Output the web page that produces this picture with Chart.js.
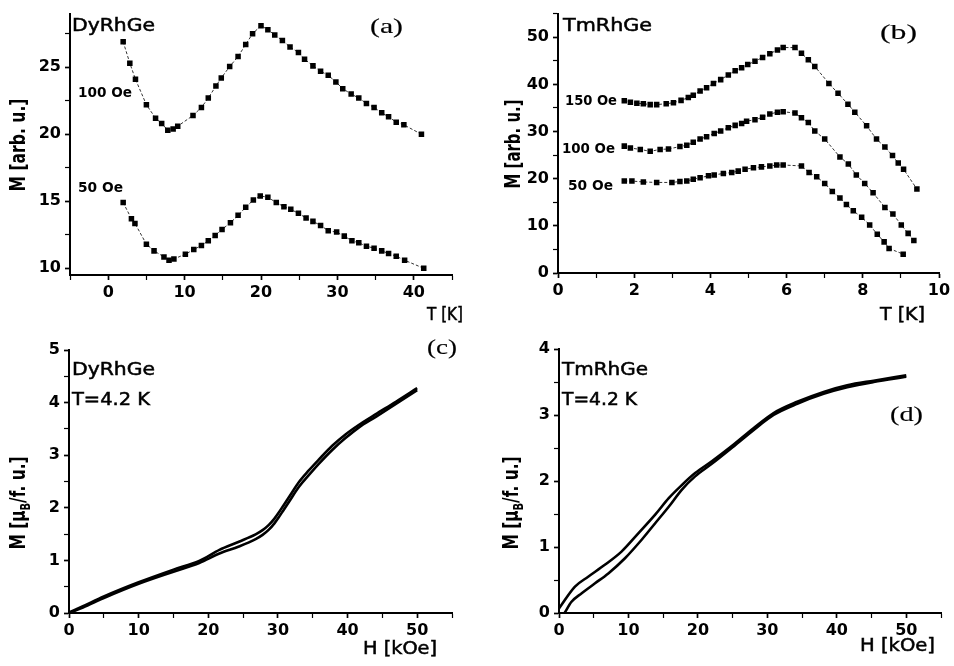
<!DOCTYPE html>
<html>
<head>
<meta charset="utf-8">
<script src="https://cdn.jsdelivr.net/npm/chart.js@4.4.1/dist/chart.umd.min.js"></script>
<style>
  html, body { margin: 0; padding: 0; background: #fff; }
  #wrap { position: relative; width: 954px; height: 666px; overflow: hidden; }
  #wrap canvas { position: absolute; }
</style>
</head>
<body>
<div id="wrap">
  <canvas id="ca" width="477" height="330" style="left:0;top:0"></canvas>
  <canvas id="cb" width="477" height="330" style="left:477px;top:0"></canvas>
  <canvas id="cc" width="477" height="336" style="left:0;top:330px"></canvas>
  <canvas id="cd" width="477" height="336" style="left:477px;top:330px"></canvas>
</div>
<script>
// (a) DyRhGe, M(T)
var dyT100 = [1.96, 2.83, 3.57, 5.0, 6.2, 7.0, 7.8, 8.5, 9.1, 11.1, 12.2, 13.1, 14.1, 14.8, 15.9, 17.0, 18.0, 18.9, 20.0, 20.9,
              21.8, 22.8, 23.8, 24.9, 25.7, 26.8, 27.8, 28.8, 29.8, 30.7, 31.8, 32.8, 33.8, 34.8, 35.8, 36.7, 37.7, 38.7, 41.0];
var dyM100 = [26.9, 25.3, 24.1, 22.2, 21.2, 20.8, 20.3, 20.4, 20.6, 21.4, 22.0, 22.7, 23.6, 24.2, 25.05, 25.8, 26.7, 27.5, 28.1, 27.8,
              27.4, 27.0, 26.5, 26.1, 25.6, 25.1, 24.7, 24.4, 23.9, 23.4, 23.0, 22.7, 22.3, 22.0, 21.6, 21.3, 20.9, 20.7, 20.0];
var dyT50 = [1.96, 3.04, 3.5, 5.0, 6.0, 7.3, 7.96, 8.6, 10.1, 11.2, 12.2, 13.1, 14.0, 14.9, 16.0, 17.0, 18.0, 19.0, 19.9, 20.9,
             22.0, 23.0, 23.9, 24.9, 25.9, 26.8, 27.8, 28.8, 29.9, 30.9, 31.9, 32.8, 33.8, 34.8, 35.8, 36.7, 37.7, 38.8, 41.3];
var dyM50 = [14.9, 13.7, 13.35, 11.8, 11.3, 10.85, 10.6, 10.7, 11.05, 11.4, 11.7, 12.05, 12.45, 12.9, 13.4, 13.95, 14.55, 15.1, 15.4, 15.3,
             14.9, 14.6, 14.4, 14.1, 13.75, 13.5, 13.2, 12.8, 12.7, 12.4, 12.05, 11.9, 11.65, 11.5, 11.3, 11.1, 10.9, 10.6, 10.0];

// (b) TmRhGe, M(T)
var tmT150 = [1.74, 1.9, 2.07, 2.24, 2.42, 2.59, 2.84, 3.03, 3.23, 3.42, 3.55, 3.73, 3.9, 4.08, 4.27, 4.47, 4.65, 4.82, 4.98, 5.17,
              5.37, 5.56, 5.76, 5.91, 6.22, 6.39, 6.57, 6.74, 7.11, 7.35, 7.61, 7.79, 8.1, 8.36, 8.58, 8.78, 8.93, 9.07, 9.42];
var tmM150 = [36.5, 36.2, 36.0, 35.9, 35.7, 35.7, 35.9, 36.1, 36.6, 37.2, 37.7, 38.6, 39.3, 40.2, 41.0, 42.0, 42.9, 43.5, 44.2, 44.9,
              45.7, 46.5, 47.3, 47.8, 47.8, 46.6, 45.2, 43.8, 40.2, 38.1, 35.8, 34.1, 31.2, 28.4, 26.7, 24.9, 23.3, 22.0, 17.8];
var tmT100 = [1.74, 1.9, 2.16, 2.42, 2.68, 2.9, 3.2, 3.38, 3.55, 3.73, 3.9, 4.1, 4.27, 4.47, 4.65, 4.82, 4.95, 5.17, 5.37, 5.56,
              5.76, 5.91, 6.22, 6.39, 6.57, 6.74, 7.0, 7.4, 7.62, 7.83, 8.05, 8.27, 8.58, 8.79, 9.01, 9.19, 9.34];
var tmM100 = [26.9, 26.5, 26.2, 25.8, 26.2, 26.3, 26.8, 27.1, 27.7, 28.4, 28.9, 29.6, 30.1, 30.8, 31.3, 31.7, 32.2, 32.5, 33.0, 33.7,
              34.1, 34.2, 33.9, 32.9, 31.9, 30.1, 28.4, 24.6, 23.1, 20.8, 19.0, 17.0, 13.9, 12.5, 10.2, 8.4, 6.9];
var tmT50 = [1.74, 1.94, 2.24, 2.59, 2.99, 3.2, 3.38, 3.55, 3.73, 3.95, 4.1, 4.34, 4.56, 4.73, 4.91, 5.13, 5.34, 5.56, 5.74, 5.91,
             6.39, 6.59, 6.79, 7.0, 7.2, 7.4, 7.57, 7.75, 7.97, 8.18, 8.38, 8.56, 8.69, 9.06];
var tmM50 = [19.5, 19.5, 19.3, 19.2, 19.2, 19.4, 19.5, 19.9, 20.2, 20.6, 20.8, 21.1, 21.3, 21.6, 22.0, 22.3, 22.5, 22.7, 22.9, 22.9,
             22.7, 21.3, 20.4, 19.0, 17.3, 15.9, 14.5, 13.2, 11.8, 10.2, 8.2, 6.6, 5.2, 4.0];

// (c) DyRhGe, M(H) at 4.2 K, two branches
var dyH = [0, 2, 5, 10, 15, 18.7, 21.6, 24.4, 26.8, 27.8, 28.7, 29.5, 30.1, 30.8, 31.6, 33.0, 34.4, 35.9, 37.8, 39.7, 41.6, 44, 47, 50];
var dyMup = [0.01, 0.13, 0.315, 0.585, 0.825, 0.99, 1.20, 1.355, 1.495, 1.575, 1.675, 1.795, 1.905, 2.045, 2.205, 2.485, 2.705, 2.92,
             3.18, 3.395, 3.575, 3.775, 4.02, 4.275];
var dyMdn = [0, 0.105, 0.285, 0.555, 0.785, 0.95, 1.13, 1.265, 1.405, 1.485, 1.585, 1.705, 1.815, 1.955, 2.115, 2.395, 2.615, 2.84,
             3.10, 3.325, 3.525, 3.725, 3.98, 4.235];

// (d) TmRhGe, M(H) at 4.2 K, two branches
var tmHup = [0, 2.3, 4.2, 6.6, 9.0, 11.45, 13.85, 15.8, 17.7, 19.6, 22, 25.1, 28, 30.9, 34.3, 38.1, 41.5, 45.3, 50];
var tmMup = [0.07, 0.40, 0.55, 0.73, 0.93, 1.21, 1.49, 1.74, 1.94, 2.12, 2.30, 2.55, 2.80, 3.03, 3.20, 3.35, 3.45, 3.52, 3.60];
var tmHdn = [0.8, 1.8, 3.27, 5.19, 7.1, 9.5, 11.9, 13.85, 15.8, 17.7, 19.6, 22, 25.1, 28, 30.9, 34.3, 38.1, 41.5, 45.3, 50];
var tmMdn = [0, 0.17, 0.30, 0.45, 0.60, 0.83, 1.11, 1.36, 1.61, 1.87, 2.07, 2.26, 2.52, 2.77, 3.00, 3.17, 3.32, 3.42, 3.50, 3.58];

var SANS = '"DejaVu Sans", sans-serif';
var SERIF = '"Liberation Serif", "DejaVu Serif", serif';

function pts(xs, ys) {
    return xs.map(function (x, i) { return {x: x, y: ys[i]}; });
}

// free text (labels, axis titles); w = target width, text is stretched like the scan
var notesPlugin = {
    id: 'notes',
    afterDraw: function (chart, args, opts) {
        var ctx = chart.ctx;
        (opts.items || []).forEach(function (n) {
            var parts = n.parts || [{t: n.text}];
            ctx.save();
            ctx.fillStyle = '#000';
            ctx.strokeStyle = '#000';
            ctx.lineWidth = n.stroke || 0;
            ctx.textBaseline = 'alphabetic';
            ctx.textAlign = 'left';
            var total = 0;
            parts.forEach(function (p) {
                ctx.font = p.font || n.font;
                p.pw = ctx.measureText(p.t).width;
                total += p.pw;
            });
            ctx.translate(n.x, n.y);
            if (n.rot) ctx.rotate(n.rot);
            ctx.scale(n.w ? n.w / total : 1, n.sy || 1);
            var x0 = n.align === 'center' ? -total / 2 : 0;
            parts.forEach(function (p) {
                ctx.font = p.font || n.font;
                ctx.fillText(p.t, x0, p.dy || 0);
                if (n.stroke) ctx.strokeText(p.t, x0, p.dy || 0);
                x0 += p.pw;
            });
            ctx.restore();
        });
    }
};

function isMajor(v, major) {
    return Math.abs(v / major - Math.round(v / major)) < 1e-6;
}

function axis(min, max, step, major, size, horizontal) {
    return {
        type: 'linear',
        min: min,
        max: max,
        border: {display: true, color: '#000', width: 2},
        grid: {
            drawOnChartArea: false,
            drawTicks: true,
            tickLength: 5,
            color: '#000',
            tickColor: '#000',
            tickWidth: function (c) {
                return c.tick && isMajor(c.tick.value, major) ? 1.7 : 1.2;
            }
        },
        ticks: {
            stepSize: step,
            includeBounds: false,
            autoSkip: false,
            maxRotation: 0,
            color: '#000',
            padding: horizontal ? 3 : 4,
            font: {family: SANS, size: 16, weight: 'bold'},
            callback: function (v) {
                return isMajor(v, major) ? String(Math.round(v * 10) / 10) : '';
            }
        },
        afterBuildTicks: function (s) {
            s.ticks = s.ticks.filter(function (t) { return isMajor(t.value, step); });
        },
        afterFit: function (s) {
            if (horizontal) s.height = size; else s.width = size;
        }
    };
}

function pointSet(data) {
    return {
        data: data,
        showLine: true,
        borderColor: '#333',
        borderWidth: 1,
        borderDash: [3, 2],
        pointStyle: 'rect',
        pointRadius: 3.9,
        pointBackgroundColor: '#000',
        pointBorderWidth: 0,
        tension: 0
    };
}

function lineSet(data) {
    return {
        data: data,
        showLine: true,
        borderColor: '#000',
        borderWidth: 2.6,
        pointRadius: 0,
        cubicInterpolationMode: 'monotone'
    };
}

function makeChart(id, datasets, xAxis, yAxis, pad, notes) {
    return new Chart(document.getElementById(id), {
        type: 'scatter',
        data: {datasets: datasets},
        options: {
            responsive: false,
            animation: false,
            layout: {padding: pad},
            scales: {x: xAxis, y: yAxis},
            plugins: {
                legend: {display: false},
                tooltip: {enabled: false},
                notes: {items: notes}
            }
        },
        plugins: [notesPlugin]
    });
}

var ROT = -Math.PI / 2;
var TXT = '17px ' + SANS;
var OE = 'bold 14px ' + SANS;
var TAG = '22px ' + SERIF;

makeChart('ca',
    [pointSet(pts(dyT100, dyM100)), pointSet(pts(dyT50, dyM50))],
    axis(-5, 45, 5, 10, 55, true),
    axis(9.5, 29, 2.5, 5, 70, false),
    {left: 0, top: 8, right: 25, bottom: 0},
    [
        {text: 'M [arb. u.]', x: 25, y: 145, rot: ROT, align: 'center', font: 'bold 17px ' + SANS, w: 93, sy: 1.25},
        {text: 'DyRhGe', x: 72, y: 31, font: TXT, w: 83, stroke: 0.5},
        {text: '(a)', x: 370, y: 33, font: TAG, w: 33, stroke: 0.15},
        {text: '100 Oe', x: 78, y: 97, font: OE, w: 54},
        {text: '50 Oe', x: 78, y: 192, font: OE, w: 45},
        {text: 'T [K]', x: 427, y: 320, font: TXT, w: 36, stroke: 0.5}
    ]);

makeChart('cb',
    [pointSet(pts(tmT150, tmM150)), pointSet(pts(tmT100, tmM100)), pointSet(pts(tmT50, tmM50))],
    axis(0, 10, 1, 2, 57, true),
    axis(0, 55, 5, 10, 81, false),
    {left: 0, top: 7, right: 15, bottom: 0},
    [
        {text: 'M [arb. u.]', x: 43, y: 144, rot: ROT, align: 'center', font: 'bold 17px ' + SANS, w: 89, sy: 1.25},
        {text: 'TmRhGe', x: 86, y: 31, font: TXT, w: 89, stroke: 0.5},
        {text: '(b)', x: 403, y: 39, font: TAG, w: 37, stroke: 0.15},
        {text: '150 Oe', x: 88, y: 105, font: OE, w: 52},
        {text: '100 Oe', x: 85, y: 153, font: OE, w: 53},
        {text: '50 Oe', x: 91, y: 190, font: OE, w: 45},
        {text: 'T [K]', x: 403, y: 320, font: TXT, w: 45, stroke: 0.5}
    ]);

var muTitle = function (x) {
    return {
        parts: [
            {t: 'M [\u03bc'},
            {t: 'B', font: 'bold 11px ' + SANS, dy: 4},
            {t: '/f. u.]'}
        ],
        x: x, y: 173, rot: ROT, align: 'center', font: 'bold 17px ' + SANS, w: 93, sy: 1.25
    };
};

makeChart('cc',
    [lineSet(pts(dyH, dyMup)), lineSet(pts(dyH, dyMdn))],
    axis(0, 55, 5, 10, 53, true),
    axis(0, 5, 0.5, 1, 69, false),
    {left: 0, top: 20, right: 25, bottom: 0},
    [
        muTitle(25),
        {text: 'DyRhGe', x: 72, y: 45, font: TXT, w: 83, stroke: 0.5},
        {text: 'T=4.2 K', x: 72, y: 75, font: TXT, w: 78, stroke: 0.5},
        {text: '(c)', x: 427, y: 24, font: TAG, w: 30, stroke: 0.15},
        {text: 'H [kOe]', x: 363, y: 324, font: TXT, w: 74, stroke: 0.5}
    ]);

makeChart('cd',
    [lineSet(pts(tmHup, tmMup)), lineSet(pts(tmHdn, tmMdn))],
    axis(0, 55, 5, 10, 53, true),
    axis(0, 4, 0.5, 1, 82, false),
    {left: 0, top: 19, right: 13, bottom: 0},
    [
        muTitle(41),
        {text: 'TmRhGe', x: 85, y: 45, font: TXT, w: 86, stroke: 0.5},
        {text: 'T=4.2 K', x: 85, y: 75, font: TXT, w: 75, stroke: 0.5},
        {text: '(d)', x: 413, y: 91, font: TAG, w: 33, stroke: 0.15},
        {text: 'H [kOe]', x: 383, y: 321, font: TXT, w: 75, stroke: 0.5}
    ]);
</script>
</body>
</html>
